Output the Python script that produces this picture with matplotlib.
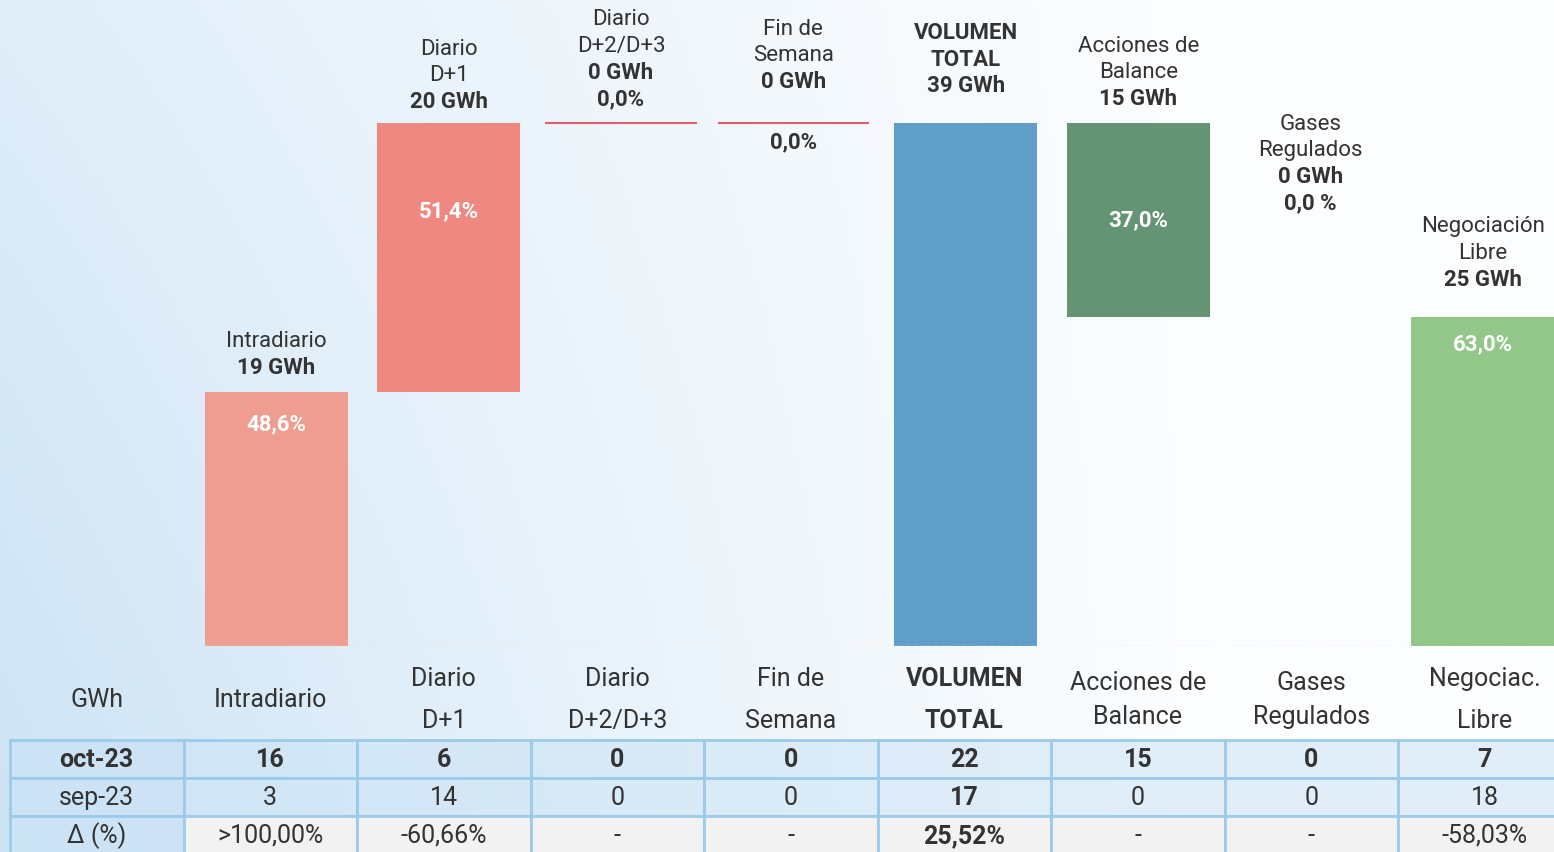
import matplotlib.pyplot as plt
import numpy as np

W, H = 1554, 853

# ---- data ----
bar_names = [["Intradiario"], ["Diario", "D+1"], ["Diario", "D+2/D+3"], ["Fin de", "Semana"],
             ["VOLUMEN", "TOTAL"], ["Acciones de", "Balance"], ["Gases", "Regulados"],
             ["Negociación", "Libre"]]
gwh_labels = ["19 GWh", "20 GWh", "0 GWh", "0 GWh", "39 GWh", "15 GWh", "0 GWh", "25 GWh"]
share_labels = ["48,6%", "51,4%", "0,0%", "0,0%", "", "37,0%", "0,0 %", "63,0%"]
steps = [18.95, 20.05, 0.0, 0.0, 39.0, -14.43, 0.0, 24.57]
is_total = [False, False, False, False, True, False, False, True]

table_header = ["GWh", "Intradiario", "Diario\nD+1", "Diario\nD+2/D+3", "Fin de\nSemana",
                "VOLUMEN\nTOTAL", "Acciones de\nBalance", "Gases\nRegulados", "Negociac.\nLibre"]
row_labels = ["oct-23", "sep-23", "Δ (%)"]
oct_23 = ["16", "6", "0", "0", "22", "15", "0", "7"]
sep_23 = ["3", "14", "0", "0", "17", "0", "0", "18"]
delta_pct = [">100,00%", "-60,66%", "-", "-", "25,52%", "-", "-", "-58,03%"]

# ---- style ----
bar_colors = ["#ee9d90", "#ee8880", "#e25d6b", "#e25d6b", "#5f9ec9", "#659474", None, "#93c689"]
bold_name = [False, False, False, False, True, False, False, False]
share_pos = ["in", "in", "above", "below", None, "in", "above", "in"]
label_gap = [25, 22, 25, 42, 38, 25, 114, 38]      # px above bar top to last label line
share_gap = [31, 87, 0, 18, 0, 96, 0, 27]          # px below bar top for the share label
FONT = ["Roboto", "DejaVu Sans"]
TXT = "#333333"
LINE = 26.5

plt.rcParams["font.family"] = FONT
fig = plt.figure(figsize=(W / 100, H / 100), dpi=100)

# background gradient
bg = fig.add_axes([0, 0, 1, 1])
gx, gy = np.meshgrid(np.linspace(0, 1, 300), np.linspace(0, 1, 200))
w = np.clip(1 - gx / 0.8, 0, 1) ** 1.2 * (0.6 + 0.4 * gy)
blue = np.array([0.80, 0.89, 0.96])
img = (1 - w[..., None]) * np.array([0.99, 0.995, 1.0]) + w[..., None] * blue
bg.imshow(img, aspect="auto", extent=[0, 1, 0, 1], origin="upper")
bg.set_axis_off()

# ---- waterfall ----
ppu = 13.41  # pixels per GWh
ax = fig.add_axes([190 / W, (H - 647) / H, 8 * 172.4 / W, 647 / H])
ax.set_xlim(-0.5, 7.5)
ax.set_ylim(0, 647 / ppu)
ax.set_axis_off()
ax.patch.set_alpha(0)

level = 0.0
for i, step in enumerate(steps):
    if is_total[i]:
        bottom, top = 0.0, step
        level = step
    else:
        bottom, top = min(level, level + step), max(level, level + step)
        level += step
    if bar_colors[i] is not None:
        if top - bottom > 0:
            ax.bar(i, top - bottom, bottom=bottom, width=0.83, color=bar_colors[i])
        else:
            ax.hlines(top, i - 0.44, i + 0.44, color=bar_colors[i], lw=1.5)
    ax.hlines(0, i - 0.47, i + 0.47, color="#d8d8d8", lw=1, linestyle=(0, (3, 2)))

    lines = [(t, bold_name[i]) for t in bar_names[i]] + [(gwh_labels[i], True)]
    if share_pos[i] == "above":
        lines.append((share_labels[i], True))
    for k, (t, bold) in enumerate(reversed(lines)):
        ax.annotate(t, (i, top), xytext=(0, label_gap[i] + k * LINE), textcoords="offset pixels",
                    ha="center", va="center", fontsize=16, color=TXT,
                    fontweight="bold" if bold else "normal")
    if share_pos[i] == "in":
        ax.annotate(share_labels[i], (i, top), xytext=(0, -share_gap[i]), textcoords="offset pixels",
                    ha="center", va="center", fontsize=16, color="white", fontweight="bold")
    elif share_pos[i] == "below":
        ax.annotate(share_labels[i], (i, top), xytext=(0, -share_gap[i]), textcoords="offset pixels",
                    ha="center", va="center", fontsize=16, color=TXT, fontweight="bold")

# ---- table ----
col_w = 173.5
tax = fig.add_axes([10 / W, (H - 855) / H, 9 * col_w / W, 114 / H])
tax.set_axis_off()
tax.patch.set_alpha(0)

cells = [[row_labels[0]] + oct_23, [row_labels[1]] + sep_23, [row_labels[2]] + delta_pct]
colours = []
for r in range(3):
    row = []
    for c in range(9):
        if c == 0:
            row.append((0.80, 0.89, 0.96, 0.85))
        elif r < 2:
            row.append((0.80, 0.89, 0.96, 0.55))
        else:
            row.append("#f2f2f2")
    colours.append(row)

tab = tax.table(cellText=cells, cellColours=colours, cellLoc="center", bbox=[0, 0, 1, 1])
tab.auto_set_font_size(False)
tab.set_fontsize(18)
for (r, c), cell in tab.get_celld().items():
    cell.set_edgecolor("#9ccbea")
    cell.set_linewidth(2)
    cell.get_text().set_color(TXT)
    if r == 0 or c == 5:
        cell.get_text().set_fontweight("bold")

for c, head in enumerate(table_header):
    x = (10 + col_w * (c + 0.5)) / W
    fig.text(x, 1 - 700 / H, head, ha="center", va="center", fontsize=18, color=TXT,
             linespacing=1.9 if c != 6 and c != 7 else 1.55,
             fontweight="bold" if c == 5 else "normal")

fig.savefig("out.png", dpi=100)
